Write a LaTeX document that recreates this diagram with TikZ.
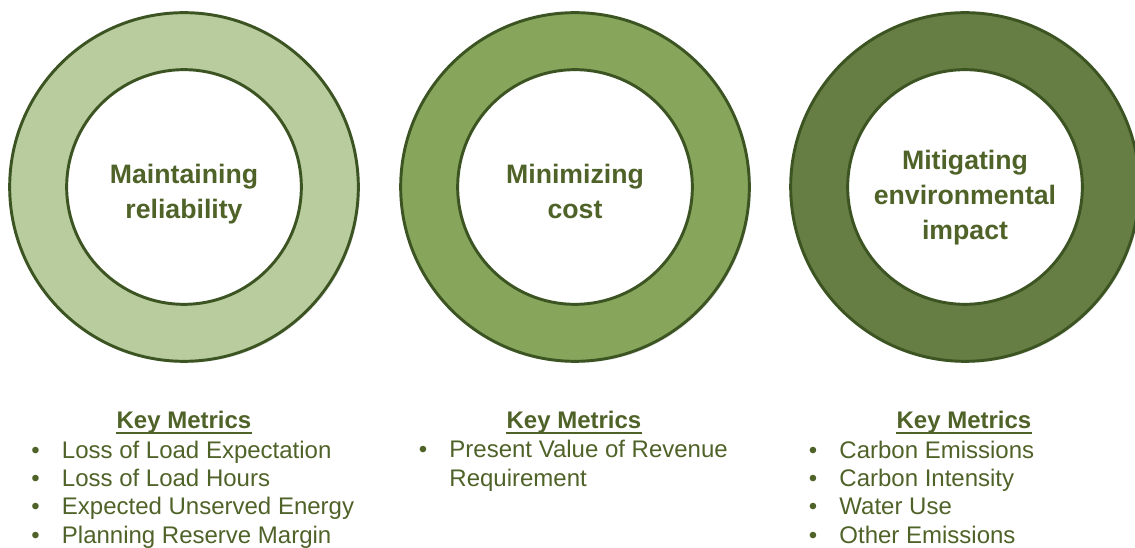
\documentclass[tikz,border=0pt]{standalone}
\usepackage{fontspec}
\setmainfont{Liberation Sans}
\usepackage{tikz}
\usetikzlibrary{positioning,shadows}
\definecolor{ringlight}{RGB}{185,204,158}
\definecolor{ringmid}{RGB}{135,166,92}
\definecolor{ringdark}{RGB}{102,125,68}
\definecolor{ringedge}{RGB}{60,84,34}
\definecolor{olivetext}{RGB}{79,98,40}
\newcommand{\metric}[1]{\makebox[23pt][l]{\textbullet}#1}

\begin{document}
\begin{tikzpicture}[x=0.75pt, y=-0.75pt,
    ring/.style={circle, draw=ringedge, line width=2.2pt, minimum size=261.5pt, inner sep=0pt,
        drop shadow={shadow xshift=1.2pt, shadow yshift=-1.2pt, opacity=0.2}},
    hole/.style={circle, draw=ringedge, line width=2.2pt, fill=white, minimum size=176pt, inner sep=0pt},
    goal/.style={align=center, inner sep=0pt, text=olivetext, font=\fontsize{20}{26.25}\selectfont\bfseries},
    head/.style={anchor=base, inner sep=0pt, text=olivetext, font=\fontsize{18}{21.25}\selectfont\bfseries},
    metrics/.style={anchor=base west, inner sep=0pt, align=left, text=olivetext,
        font=\fontsize{18}{21.25}\selectfont},
    uline/.style={draw=olivetext, line width=1.4pt}
]
\useasboundingbox (0,0) rectangle (1135,548);

\node[ring, fill=ringlight] (relring) at (184,187) {};
\node[hole] (rel) at (relring.center) {};
\node[goal, below=-17pt of rel.center] (reltext) {Maintaining\\reliability};
\node[ring, fill=ringmid] (costring) at (575,187) {};
\node[hole] (cost) at (costring.center) {};
\node[goal, below=-17pt of cost.center] (costtext) {Minimizing\\cost};
\node[ring, fill=ringdark] (envring) at (965,187) {};
\node[hole] (env) at (envring.center) {};
\node[goal, below=-28pt of env.center] (envtext) {Mitigating\\environmental\\impact};

% lists are placed by the baseline of their last line
\node[head] (relhead) at (184,428.5) {Key Metrics};
\draw[uline] ([yshift=-3.4pt]relhead.base west) -- ([yshift=-3.4pt]relhead.base east);
\node[metrics] (relmet) at (31,543) {\metric{Loss of Load Expectation}\\
    \metric{Loss of Load Hours}\\ \metric{Expected Unserved Energy}\\ \metric{Planning Reserve Margin}};

\node[head] (costhead) at (574,428.5) {Key Metrics};
\draw[uline] ([yshift=-3.4pt]costhead.base west) -- ([yshift=-3.4pt]costhead.base east);
\node[metrics] (costmet) at (418.5,486.3) {\metric{Present Value of Revenue}\\
    \hspace*{23pt}Requirement};

\node[head] (envhead) at (964,428.5) {Key Metrics};
\draw[uline] ([yshift=-3.4pt]envhead.base west) -- ([yshift=-3.4pt]envhead.base east);
\node[metrics] (envmet) at (808.5,543) {\metric{Carbon Emissions}\\
    \metric{Carbon Intensity}\\ \metric{Water Use}\\ \metric{Other Emissions}};
\end{tikzpicture}
\end{document}
